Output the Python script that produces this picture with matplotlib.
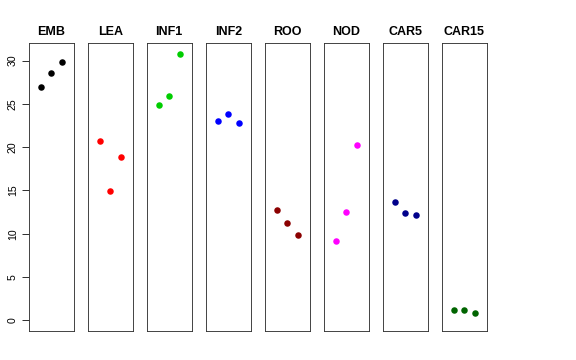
import numpy as np
import matplotlib
matplotlib.use("Agg")
from matplotlib import pyplot as plt

plt.rcParams['font.family'] = ['Liberation Sans', 'DejaVu Sans']

# tissues and their three replicate values
tissues = ["EMB", "LEA", "INF1", "INF2", "ROO", "NOD", "CAR5", "CAR15"]
emb = [27.0, 28.6, 29.8]
lea = [20.7, 14.9, 18.85]
inf1 = [24.85, 25.9, 30.8]
inf2 = [23.0, 23.8, 22.8]
roo = [12.75, 11.2, 9.85]
nod = [9.15, 12.5, 20.25]
car5 = [13.7, 12.4, 12.2]
car15 = [1.25, 1.25, 0.9]
values = [emb, lea, inf1, inf2, roo, nod, car5, car15]
colors = ["black", "red", "#00CD00", "blue", "#8B0000", "magenta", "#00008B", "#006400"]

W, H = 576, 360
fig = plt.figure(figsize=(W / 72, H / 72), dpi=72)

# panel geometry in pixels
left0 = 29
pw = 44.5
step = 59
top = 43
bottom = 331

ymax = max(max(v) for v in values)
pad = 0.04 * ymax

for i, (name, vals, col) in enumerate(zip(tissues, values, colors)):
    x0 = left0 + i * step
    ax = fig.add_axes([x0 / W, 1 - bottom / H, pw / W, (bottom - top) / H])
    ax.plot(np.arange(1, len(vals) + 1), vals, 'o', color=col, markersize=6.5,
            markeredgewidth=0)
    ax.set_xlim(-0.16, 4.16)
    ax.set_ylim(-pad, ymax + pad)
    ax.set_xticks([])
    for s in ax.spines.values():
        s.set_linewidth(0.9)
        s.set_color('#333333')
    ax.set_title(name, fontsize=12.5, fontweight='bold', pad=8)
    if i == 0:
        ax.set_yticks([0, 5, 10, 15, 20, 25, 30])
        ax.tick_params(axis='y', length=7, width=0.8, labelsize=10.5, pad=4,
                       labelrotation=90)
        for lab in ax.get_yticklabels():
            lab.set_va('center')
    else:
        ax.set_yticks([])

fig.savefig("out.png", dpi=72)
